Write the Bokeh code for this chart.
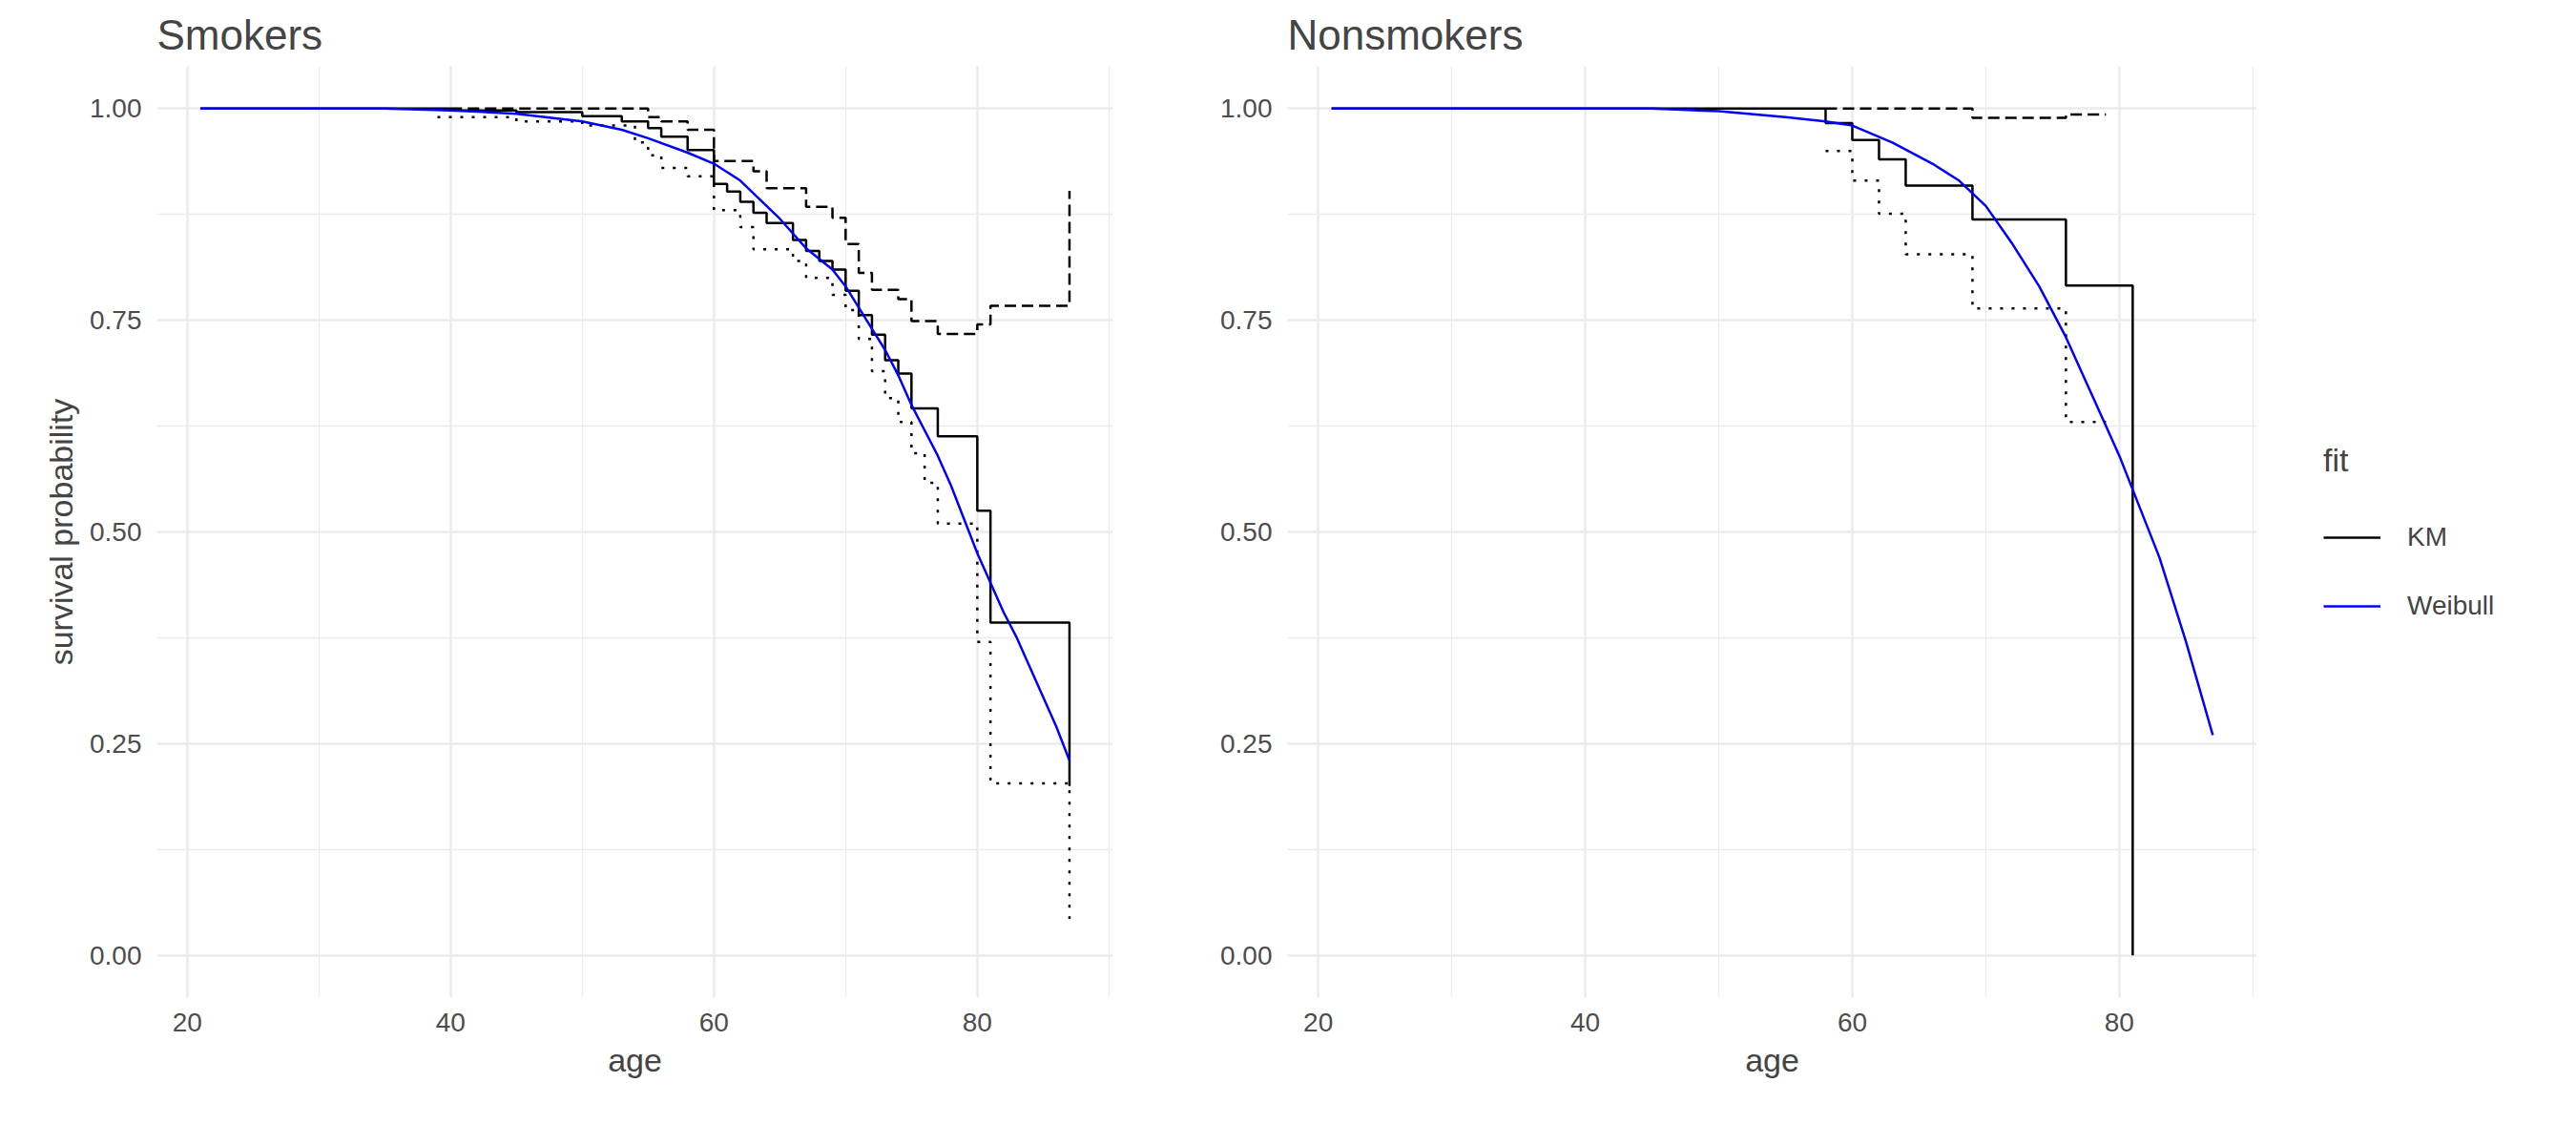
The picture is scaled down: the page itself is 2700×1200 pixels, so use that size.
from bokeh.plotting import figure
from bokeh.layouts import row
from bokeh.models import FixedTicker, PrintfTickFormatter, Legend, LegendItem
from bokeh.embed import file_html
from bokeh.resources import INLINE

FONT = "Liberation Sans"

# Smokers: Kaplan-Meier estimate with lower/upper bands
sm_age = [21, 40, 45, 50, 53, 55, 56, 58, 60, 61, 62, 63, 64, 66, 67, 68, 69, 70, 71, 72, 73, 74, 75, 77, 80, 81, 87]
sm_km = [1.0, 0.998, 0.996, 0.991, 0.985, 0.977, 0.967, 0.951, 0.911, 0.902, 0.89, 0.877, 0.865, 0.845, 0.832, 0.82,
         0.81, 0.785, 0.756, 0.733, 0.703, 0.687, 0.646, 0.613, 0.525, 0.393, 0.20]
sm_up_age = [40, 48, 55, 56, 58, 60, 63, 64, 67, 69, 70, 71, 72, 74, 75, 77, 80, 81, 87]
sm_up = [1.0, 1.0, 0.99, 0.985, 0.975, 0.938, 0.926, 0.906, 0.884, 0.871, 0.84, 0.806, 0.786, 0.775, 0.749, 0.734,
         0.745, 0.767, 0.903]
sm_lo_age = [39, 45, 50, 54, 55, 56, 58, 60, 62, 63, 66, 67, 69, 70, 71, 72, 73, 74, 75, 76, 77, 80, 81, 87]
sm_lo = [0.99, 0.985, 0.98, 0.96, 0.945, 0.93, 0.92, 0.88, 0.86, 0.834, 0.82, 0.80, 0.78, 0.762, 0.728, 0.69, 0.658,
         0.63, 0.593, 0.558, 0.51, 0.37, 0.203, 0.043]
sm_wb_age = [21, 30, 35, 40, 45, 50, 53, 55, 58, 60, 62, 65, 67, 69, 70, 71, 72, 73, 74, 75, 76, 77, 78, 79, 80,
             81, 82, 83, 84, 85, 86, 87]
sm_wb = [1.0, 1.0, 1.0, 0.998, 0.994, 0.985, 0.975, 0.965, 0.948, 0.935, 0.915, 0.87, 0.835, 0.81, 0.79, 0.765,
         0.74, 0.715, 0.685, 0.65, 0.62, 0.59, 0.555, 0.515, 0.475, 0.44, 0.405, 0.375, 0.34, 0.305, 0.27, 0.23]

# Nonsmokers
ns_age = [21, 58, 60, 62, 64, 69, 76, 81, 81]
ns_km = [1.0, 0.983, 0.963, 0.94, 0.909, 0.869, 0.791, 0.0, 0.0]
ns_up_age = [58, 69, 76, 79]
ns_up = [1.0, 0.989, 0.993, 0.993]
ns_lo_age = [58, 60, 62, 64, 69, 76, 79]
ns_lo = [0.95, 0.915, 0.876, 0.828, 0.764, 0.63, 0.63]
ns_wb_age = [21, 35, 45, 50, 55, 58, 60, 63, 66, 68, 70, 72, 74, 76, 77, 78, 79, 80, 81, 82, 83, 84, 85, 86, 87]
ns_wb = [1.0, 1.0, 1.0, 0.997, 0.99, 0.985, 0.98, 0.96, 0.935, 0.915, 0.885, 0.84, 0.79, 0.73, 0.695, 0.66, 0.625,
         0.59, 0.55, 0.51, 0.47, 0.42, 0.37, 0.315, 0.26]


def make_panel(title, ylabel, left, right, fw):
    p = figure(frame_width=fw, frame_height=976, x_range=(17.7, 90.3), y_range=(-0.05, 1.05),
               output_backend="svg", toolbar_location=None, min_border_left=left,
               min_border_right=right, min_border_top=10, min_border_bottom=20)
    p.title.text = title
    p.title.text_font = FONT
    p.title.text_font_size = "44px"
    p.title.text_font_style = "normal"
    p.title.standoff = 18
    p.outline_line_color = None
    p.xaxis.ticker = FixedTicker(ticks=[20, 40, 60, 80], minor_ticks=[30, 50, 70, 90])
    p.yaxis.ticker = FixedTicker(ticks=[0, 0.25, 0.5, 0.75, 1.0], minor_ticks=[0.125, 0.375, 0.625, 0.875])
    p.yaxis.formatter = PrintfTickFormatter(format="%.2f")
    for ax in (p.xaxis, p.yaxis):
        ax.axis_line_color = None
        ax.major_tick_line_color = None
        ax.minor_tick_line_color = None
        ax.major_label_text_font = FONT
        ax.major_label_text_font_size = "28px"
        ax.major_label_text_color = "#4D4D4D"
        ax.axis_label_text_font = FONT
        ax.axis_label_text_font_size = "34px"
        ax.axis_label_text_font_style = "normal"
        ax.major_label_standoff = 10
        ax.axis_label_standoff = 8
    p.xaxis.axis_label = "age"
    p.yaxis.axis_label = ylabel
    p.grid.grid_line_color = "#EBEBEB"
    p.grid.grid_line_width = 2.5
    p.grid.minor_grid_line_color = "#EBEBEB"
    p.grid.minor_grid_line_width = 1.3
    return p


p1 = make_panel("Smokers", "survival probability", 164, 66, 1002)
p1.step(sm_lo_age, sm_lo, mode="after", color="black", line_width=2.5, line_dash="3 9")
p1.step(sm_up_age, sm_up, mode="after", color="black", line_width=2.5, line_dash="12 6")
p1.step(sm_age, sm_km, mode="after", color="black", line_width=2.5)
p1.line(sm_wb_age, sm_wb, color="blue", line_width=2.5)

p2 = make_panel("Nonsmokers", "", 117, 300, 1016)
p2.step(ns_lo_age, ns_lo, mode="after", color="black", line_width=2.5, line_dash="3 9")
p2.step(ns_up_age, ns_up, mode="after", color="black", line_width=2.5, line_dash="12 6")
km = p2.step(ns_age, ns_km, mode="after", color="black", line_width=2.5)
wb = p2.line(ns_wb_age, ns_wb, color="blue", line_width=2.5)

legend = Legend(items=[LegendItem(label="KM", renderers=[km]), LegendItem(label="Weibull", renderers=[wb])],
                title="fit", location="center_left", border_line_color=None, background_fill_alpha=0,
                label_text_font=FONT, label_text_font_size="28px", title_text_font=FONT,
                title_text_font_size="34px", title_text_font_style="normal", glyph_width=60,
                spacing=40, title_standoff=45, margin=70, label_standoff=28)
p2.add_layout(legend, "right")

layout = row(p1, p2)
open("out.html", "w").write(file_html(layout, INLINE))
